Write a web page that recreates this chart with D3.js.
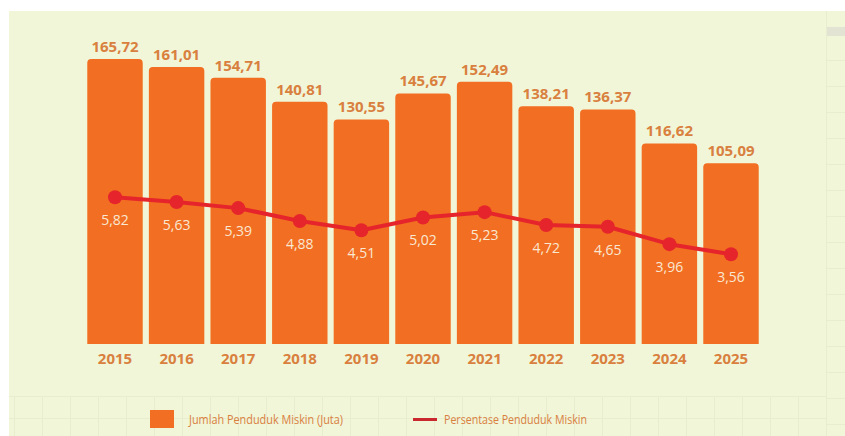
<!DOCTYPE html>
<html>
<head>
<meta charset="utf-8">
<script src="https://cdn.jsdelivr.net/npm/d3@7"></script>
<style>
  html, body { margin: 0; padding: 0; background: #ffffff; }
  svg { display: block; font-family: "Open Sans", sans-serif; }
</style>
</head>
<body>
<svg id="chart"></svg>
<script>
var width = 845, height = 436;

// data
var years = ["2015", "2016", "2017", "2018", "2019", "2020", "2021", "2022", "2023", "2024", "2025"];
var jumlah = [165.72, 161.01, 154.71, 140.81, 130.55, 145.67, 152.49, 138.21, 136.37, 116.62, 105.09];
var persen = [5.82, 5.63, 5.39, 4.88, 4.51, 5.02, 5.23, 4.72, 4.65, 3.96, 3.56];
var legendLabels = ["Jumlah Penduduk Miskin (Juta)", "Persentase Penduduk Miskin"];

var fmt = function(v) { return v.toFixed(2).replace(".", ","); };

var svg = d3.select("#chart")
    .attr("width", width)
    .attr("height", height);

// cream background
svg.append("rect")
    .attr("x", 9).attr("y", 11)
    .attr("width", width - 9).attr("height", height - 11)
    .attr("fill", "#f1f6d8");

// faint grid bits (bottom band + right strip)
var gGrid = svg.append("g").attr("stroke", "#e8edcf").attr("stroke-width", 1);
d3.range(14, 830, 28).forEach(function(x) {
    gGrid.append("line").attr("x1", x + 0.5).attr("x2", x + 0.5).attr("y1", 396).attr("y2", height);
});
[396, 418].forEach(function(y) {
    gGrid.append("line").attr("x1", 9).attr("x2", 826).attr("y1", y + 0.5).attr("y2", y + 0.5);
});
gGrid.append("line").attr("x1", 826.5).attr("x2", 826.5).attr("y1", 11).attr("y2", height);
d3.range(60, height, 26).forEach(function(y) {
    gGrid.append("line").attr("x1", 826).attr("x2", width).attr("y1", y + 0.5).attr("y2", y + 0.5);
});
svg.append("rect").attr("x", 827).attr("y", 27).attr("width", 18).attr("height", 9)
    .attr("fill", "#dcdcd0").attr("opacity", 0.7);

// scales
var x = d3.scaleBand().domain(years).range([84.2, 761.8]).paddingInner(0.1).paddingOuter(0.05);
var yBar = d3.scaleLinear().domain([0, 174.4]).range([344, 44]);
var yPct = d3.scaleLinear().domain([0, 11.9]).range([344, 44]);

var barColor = "#f26e22", lineColor = "#e5252b", labelColor = "#d9803f";

// bars with rounded top corners
function barPath(x0, y0, w, h, r) {
    return "M" + x0 + "," + (y0 + h) +
        "V" + (y0 + r) +
        "Q" + x0 + "," + y0 + " " + (x0 + r) + "," + y0 +
        "H" + (x0 + w - r) +
        "Q" + (x0 + w) + "," + y0 + " " + (x0 + w) + "," + (y0 + r) +
        "V" + (y0 + h) + "Z";
}

svg.append("g").selectAll("path")
    .data(years)
    .join("path")
    .attr("d", function(d, i) {
        var top = yBar(jumlah[i]);
        return barPath(x(d), top, x.bandwidth(), yBar(0) - top, 4);
    })
    .attr("fill", barColor);

// bar value labels
svg.append("g").selectAll("text")
    .data(years)
    .join("text")
    .attr("x", function(d) { return x(d) + x.bandwidth() / 2; })
    .attr("y", function(d, i) { return yBar(jumlah[i]) - 7; })
    .attr("text-anchor", "middle")
    .attr("font-size", 15)
    .attr("font-weight", 700)
    .attr("fill", labelColor)
    .text(function(d, i) { return fmt(jumlah[i]); });

// year axis labels
svg.append("g").selectAll("text")
    .data(years)
    .join("text")
    .attr("x", function(d) { return x(d) + x.bandwidth() / 2; })
    .attr("y", 364)
    .attr("text-anchor", "middle")
    .attr("font-size", 15)
    .attr("font-weight", 700)
    .attr("fill", labelColor)
    .text(function(d) { return d; });

// percentage line
var line = d3.line()
    .x(function(d) { return x(d) + x.bandwidth() / 2; })
    .y(function(d, i) { return yPct(persen[i]); });

svg.append("path")
    .datum(years)
    .attr("d", line)
    .attr("fill", "none")
    .attr("stroke", lineColor)
    .attr("stroke-width", 4)
    .attr("stroke-linejoin", "round");

svg.append("g").selectAll("circle")
    .data(years)
    .join("circle")
    .attr("cx", function(d) { return x(d) + x.bandwidth() / 2; })
    .attr("cy", function(d, i) { return yPct(persen[i]); })
    .attr("r", 7)
    .attr("fill", lineColor);

svg.append("g").selectAll("text")
    .data(years)
    .join("text")
    .attr("x", function(d) { return x(d) + x.bandwidth() / 2; })
    .attr("y", function(d, i) { return yPct(persen[i]) + 28; })
    .attr("text-anchor", "middle")
    .attr("font-size", 14)
    .attr("fill", "#f9e8d2")
    .text(function(d, i) { return fmt(persen[i]); });

// legend (condensed text)
var gLeg = svg.append("g");
gLeg.append("rect")
    .attr("x", 150).attr("y", 410).attr("width", 24).attr("height", 18)
    .attr("fill", barColor);
gLeg.append("text")
    .attr("x", 189).attr("y", 424)
    .attr("font-size", 13.5)
    .attr("textLength", 154)
    .attr("lengthAdjust", "spacingAndGlyphs")
    .attr("fill", labelColor)
    .text(legendLabels[0]);
gLeg.append("line")
    .attr("x1", 413).attr("x2", 437).attr("y1", 419.5).attr("y2", 419.5)
    .attr("stroke", "#c8282e").attr("stroke-width", 3);
gLeg.append("text")
    .attr("x", 444).attr("y", 424)
    .attr("font-size", 13.5)
    .attr("textLength", 143)
    .attr("lengthAdjust", "spacingAndGlyphs")
    .attr("fill", labelColor)
    .text(legendLabels[1]);
</script>
</body>
</html>
